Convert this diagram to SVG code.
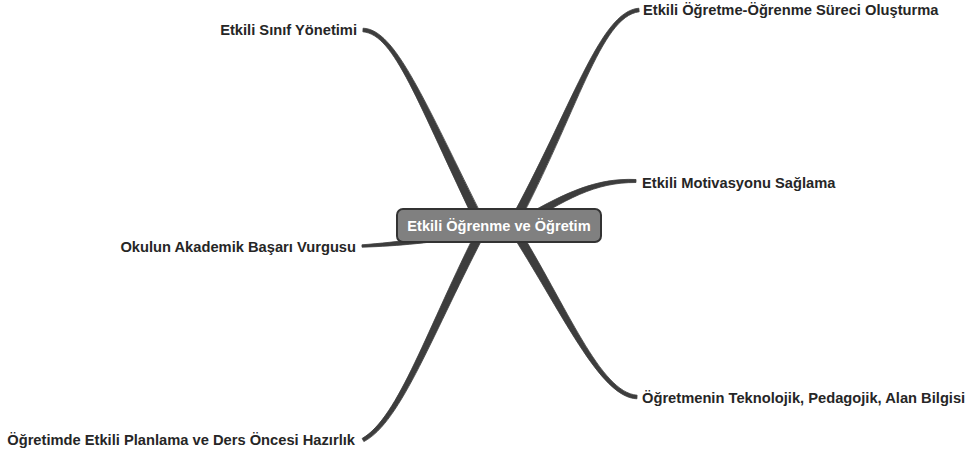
<svg xmlns="http://www.w3.org/2000/svg" width="979" height="456" viewBox="0 0 979 456">
<style>
.br{fill:#3d3d3d;stroke:#3d3d3d;stroke-width:0.8;stroke-linejoin:round}
.lbl{font-family:"Liberation Sans",Arial,sans-serif;font-weight:bold;font-size:14.7px;fill:#262626}
.ctr{font-family:"Liberation Sans",Arial,sans-serif;font-weight:bold;font-size:14.6px;fill:#ffffff}
</style>
<rect width="979" height="456" fill="#ffffff"/>
<g id="connectors">
<path class="br" d="M486.04,224.01 C423.23,98.41 395.17,29.31 363.11,28.2 L362.89,31.8 C394.83,34.69 416.77,101.59 477.96,227.99 Z"/>
<path class="br" d="M515.95,228.15 C578.16,111.72 600.28,16.69 639.18,11.79 L638.82,8.21 C599.72,11.31 571.84,108.28 508.05,223.85 Z"/>
<path class="br" d="M517.06,229.43 C566.65,198.74 594.94,182.3 635.96,182.5 L636.04,179.5 C595.06,177.7 563.35,193.26 512.94,222.57 Z"/>
<path class="br" d="M479.45,228.54 C429.57,237.33 399.89,242 361.94,244.8 L362.06,247.2 C400.11,246 430.43,242.67 480.55,235.46 Z"/>
<path class="br" d="M480.01,223.93 C426.81,328.34 398.72,417.62 362.14,438.42 L363.86,441.58 C401.28,422.38 433.19,331.66 487.99,228.07 Z"/>
<path class="br" d="M508.19,228.4 C561.95,311.92 599.85,397.7 636.9,398.8 L637.1,395.2 C600.15,392.3 568.05,308.08 515.81,223.6 Z"/>
</g>
<g id="center">
<rect x="397" y="209" width="204" height="33" rx="6" fill="#808080" stroke="#333333" stroke-width="2"/>
<text class="ctr" x="499" y="231" text-anchor="middle">Etkili Öğrenme ve Öğretim</text>
</g>
<g id="n1"><text class="lbl" x="357" y="35" text-anchor="end">Etkili Sınıf Yönetimi</text></g>
<g id="n2"><text class="lbl" x="643" y="15">Etkili Öğretme-Öğrenme Süreci Oluşturma</text></g>
<g id="n3"><text class="lbl" x="642" y="188">Etkili Motivasyonu Sağlama</text></g>
<g id="n4"><text class="lbl" x="356" y="252" text-anchor="end">Okulun Akademik Başarı Vurgusu</text></g>
<g id="n5"><text class="lbl" x="355" y="445" text-anchor="end">Öğretimde Etkili Planlama ve Ders Öncesi Hazırlık</text></g>
<g id="n6"><text class="lbl" x="642" y="403">Öğretmenin Teknolojik, Pedagojik, Alan Bilgisi</text></g>
</svg>
